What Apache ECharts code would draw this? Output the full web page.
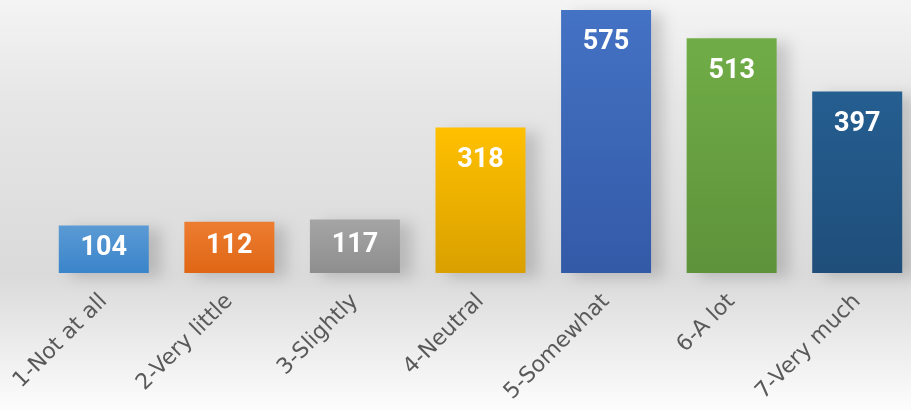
<!DOCTYPE html>
<html>
<head>
<meta charset="utf-8">
<script src="https://cdn.jsdelivr.net/npm/echarts@6/dist/echarts.min.js"></script>
<style>
  html, body { margin: 0; padding: 0; }
  #chart { width: 911px; height: 411px; }
</style>
</head>
<body>
<div id="chart"></div>
<script>
  var categories = ['1-Not at all', '2-Very little', '3-Slightly', '4-Neutral', '5-Somewhat', '6-A lot', '7-Very much'];
  var counts = [104, 112, 117, 318, 575, 513, 397];
  // top / bottom colour for each bar's gradient
  var topColors = ['#5b9bd5', '#ed7d31', '#a5a5a5', '#ffc000', '#4472c4', '#70ad47', '#255e91'];
  var bottomColors = ['#3a84ca', '#df6615', '#8e8e8e', '#d9a000', '#335aa7', '#5e923b', '#1f4e7a'];

  var chart = echarts.init(document.getElementById('chart'));

  var option = {
    animation: false,
    backgroundColor: {
      type: 'linear', x: 0, y: 0, x2: 0, y2: 1,
      colorStops: [
        { offset: 0, color: '#f4f4f4' },
        { offset: 0.25, color: '#e6e6e6' },
        { offset: 0.67, color: '#dadada' },
        { offset: 1, color: '#fdfdfd' }
      ]
    },
    grid: { left: 41, right: -9, top: 10, bottom: 138, containLabel: false, outerBoundsMode: 'none' },
    xAxis: {
      type: 'category',
      data: categories,
      axisLine: { show: false },
      axisTick: { show: false },
      axisLabel: {
        rotate: 45,
        margin: 25,
        interval: 0,
        color: '#595959',
        fontSize: 22,
        fontFamily: '"DejaVu Sans", sans-serif'
      }
    },
    yAxis: {
      type: 'value',
      min: 0,
      max: 575,
      show: false,
      splitLine: { show: false }
    },
    series: [{
      type: 'bar',
      barWidth: 90,
      data: counts.map(function (v, i) {
        var item = {
          value: v,
          itemStyle: {
            color: {
              type: 'linear', x: 0, y: 0, x2: 0, y2: 1,
              colorStops: [
                { offset: 0, color: topColors[i] },
                { offset: 1, color: bottomColors[i] }
              ]
            }
          }
        };
        // short bars: label sits in the middle
        if (v < 200) {
          item.label = { position: 'inside', offset: [0, -1] };
        }
        return item;
      }),
      itemStyle: {
        shadowColor: 'rgba(0,0,0,0.16)',
        shadowBlur: 14,
        shadowOffsetX: 12,
        shadowOffsetY: 4
      },
      label: {
        show: true,
        position: 'insideTop',
        distance: 19,
        color: '#ffffff',
        fontSize: 27,
        fontWeight: 'bold',
        fontFamily: 'Roboto, sans-serif'
      }
    }]
  };

  chart.setOption(option);
</script>
</body>
</html>
